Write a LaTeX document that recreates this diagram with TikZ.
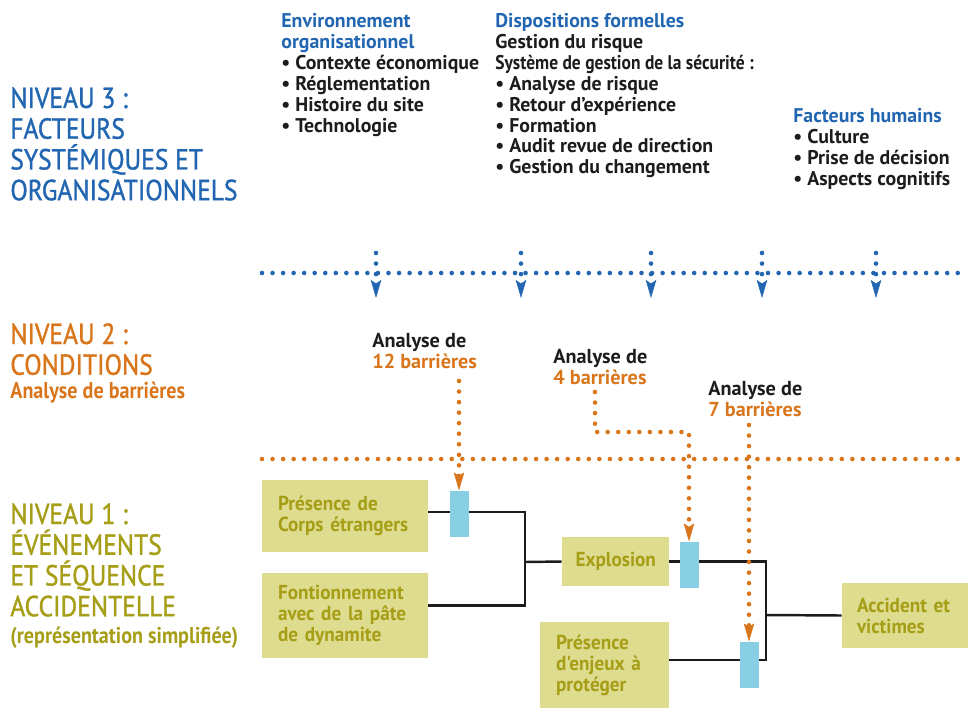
\documentclass[tikz,border=0pt]{standalone}
\usepackage{fontspec}
\setmainfont{PT Sans}
\newfontfamily\titrefont[FakeStretch=0.88, FakeBold=1.2]{PT Sans}
\newfontfamily\etroit[FakeStretch=0.88]{PT Sans}
\newfontfamily\boitefont[FakeStretch=0.95]{PT Sans}
\usetikzlibrary{arrows.meta}

\definecolor{bleuniv}{HTML}{2266B2}
\definecolor{orangeniv}{HTML}{D9761C}
\definecolor{oliveniv}{HTML}{A69E16}
\definecolor{fondevt}{HTML}{DEDC8F}
\definecolor{barriere}{HTML}{88CFE3}
\definecolor{texte}{HTML}{1C1C1C}

\newcommand{\entete}[1]{\textcolor{bleuniv}{#1}}
\newcommand{\nbbar}[1]{\textcolor{orangeniv}{#1}}

\tikzset{
  pointbleu/.style = {draw = bleuniv, line width = 2.6pt, line cap = round,
    dash pattern = on 0pt off 6pt},
  pointorange/.style = {draw = orangeniv, line width = 2.6pt, line cap = round,
    dash pattern = on 0pt off 6pt},
  pointe/.style = {-{Stealth[length = 0.36cm, width = 0.21cm, inset = 0.07cm,
    line width = 0.3pt]}}
}

\begin{document}
\begin{tikzpicture}[x = 0.02cm, y = -0.02cm]
\useasboundingbox (0,0) rectangle (968,708);

% Titres des niveaux
\begin{scope}[
		every node/.style = {anchor = north west, align = left,
		inner sep = 0pt, font = \titrefont\fontsize{16.5}{17.5}\selectfont}]
	\node[text = bleuniv] (niv3) at (10,87) {NIVEAU 3 :\\FACTEURS\\SYSTÉMIQUES ET\\ORGANISATIONNELS};
	\node[text = orangeniv] (niv2) at (10,323) {NIVEAU 2 :\\CONDITIONS};
	\node[text = oliveniv] (niv1) at (10,503) {NIVEAU 1 :\\ÉVÉNEMENTS\\ET SÉQUENCE\\ACCIDENTELLE};
\end{scope}
\begin{scope}[
		every node/.style = {anchor = base west, inner sep = 0pt,
		font = \etroit\bfseries\fontsize{13}{14}\selectfont}]
	\node[text = orangeniv] (niv2s) at (10,398) {Analyse de barrières};
	\node[text = oliveniv] (niv1s) at (10,643) {(représentation simplifiée)};
\end{scope}

% Facteurs du niveau 3
\begin{scope}[
		every node/.style = {anchor = north west, align = left, inner sep = 0pt,
		text = texte, font = \bfseries\fontsize{11.3}{11.9}\selectfont}]
	\node (envorg) at (281,13) {\entete{Environnement}\\\entete{organisationnel}\\
		• Contexte économique\\• Réglementation\\• Histoire du site\\• Technologie};
	\node (dispo) at (495,13) {\entete{Dispositions formelles}\\Gestion du risque\\
		{\etroit\bfseries Système de gestion de la sécurité :}\\• Analyse de risque\\• Retour d'expérience\\
		• Formation\\• Audit revue de direction\\• Gestion du changement};
	\node (humain) at (793,108) {\entete{Facteurs humains}\\• Culture\\
		• Prise de décision\\• Aspects cognitifs};
\end{scope}

% Separations
\draw[pointbleu] (262,273) -- (966,273);
\draw[pointorange] (262,459) -- (966,459);

% Fleches du niveau 3
\foreach \xa [count = \i] in {376,521,651,762,876} {
	\coordinate (hb\i) at (\xa,253);
	\coordinate (bb\i) at (\xa,298);
	\draw[pointbleu, pointe] (hb\i) -- (bb\i);
}

% Evenements
\begin{scope}[
		every node/.style = {fill = fondevt, text = oliveniv, align = left,
		inner xsep = 0.32cm, inner ysep = 0pt,
		font = \boitefont\bfseries\fontsize{11.5}{11.9}\selectfont}]
	\node[text width = 2.68cm, minimum height = 1.44cm] (corps) at (345,516) {Présence de\\Corps étrangers};
	\node[text width = 2.68cm, minimum height = 1.70cm] (dynam) at (345,615.5) {Fontionnement\\avec de la pâte\\de dynamite};
	\node[text width = 1.6cm, inner xsep = 0.27cm, minimum height = 0.98cm] (explo) at (615.5,561.5) {Explosion};
	\node[text width = 1.94cm, minimum height = 1.72cm] (enjeux) at (604.5,665) {Présence\\d'enjeux à\\protéger};
	\node[text width = 1.92cm, inner xsep = 0.3cm, minimum height = 1.30cm] (accid) at (905,615.5) {Accident et\\victimes};
\end{scope}

% Sequence
\begin{scope}[line width = 1.4pt, draw = texte]
	\coordinate (jn1) at (525,562);
	\coordinate (jn2) at (766,615);
	\draw ([yshift = 0.08cm]corps.east) -| (jn1);
	\draw ([yshift = 0.2cm]dynam.east) -| (jn1);
	\draw (jn1) -- (explo.west);
	\draw (explo.east) -| (jn2);
	\draw ([yshift = 0.1cm]enjeux.east) -| (jn2);
	\draw (jn2) -- (accid.west);
\end{scope}

% Barrieres
\begin{scope}[
		every node/.style = {fill = barriere, inner sep = 0pt,
		minimum width = 0.38cm, minimum height = 0.93cm}]
	\node (bar1) at (459,514) {};
	\node (bar2) at (689,565) {};
	\node (bar3) at (749,665) {};
\end{scope}

% Analyses de barrieres
\begin{scope}[
		every node/.style = {anchor = north west, align = left, inner sep = 0pt,
		text = texte, font = \bfseries\fontsize{11.5}{11.9}\selectfont}]
	\node (ana12) at (372,333) {Analyse de\\\nbbar{12 barrières}};
	\node (ana4) at (553,349) {Analyse de\\\nbbar{4 barrières}};
	\node (ana7) at (708,381) {Analyse de\\\nbbar{7 barrières}};
\end{scope}

\coordinate (d12) at (459,381);
\coordinate (d4) at (595,392);
\coordinate (d7) at (749,425);
\draw[pointorange, pointe] (d12) -- (bar1.north);
\draw[pointorange, pointe] (d4) -- ++(0,40) -| (bar2.north);
\draw[pointorange, pointe] (d7) -- (bar3.north);
\end{tikzpicture}
\end{document}
